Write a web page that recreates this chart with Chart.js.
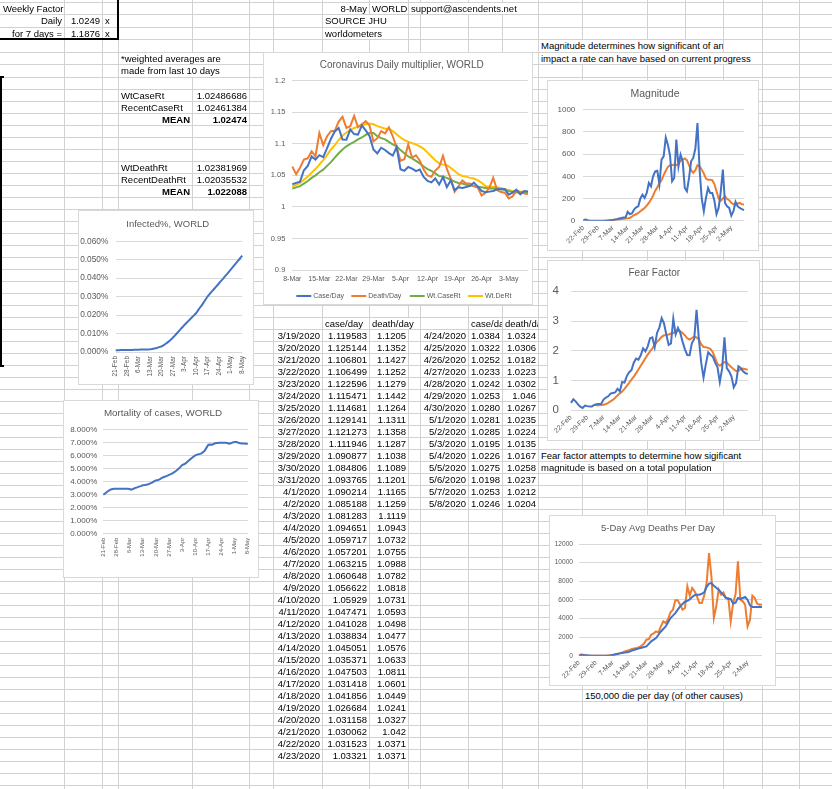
<!DOCTYPE html>
<html>
<head>
<meta charset="utf-8">
<title>WORLD multiplier sheet</title>
<script src="https://cdn.jsdelivr.net/npm/chart.js@4.4.1/dist/chart.umd.min.js"></script>
<style>
  html, body { margin: 0; padding: 0; background: #fff; }
  body { position: relative; width: 832px; height: 789px; overflow: hidden;
         font-family: 'Liberation Sans', Arial, sans-serif; }
  #grid { position: absolute; left: 0; top: 0; }
  .c { position: absolute; font-size: 9.5px; white-space: nowrap; overflow: hidden; color: #000; box-sizing: border-box; }
  .r { text-align: right; padding-right: 2px; }
  .l { text-align: left; padding-left: 2px; }
  .b { font-weight: bold; }
  .w { background: #fff; }
  .thick { position: absolute; background: #000; }
  canvas.chart { position: absolute; }
</style>
</head>
<body>
<canvas id="grid" width="832" height="789"></canvas>
<div id="cells"></div>
<div class="thick" style="left:0;top:38px;width:119px;height:2px"></div>
<div class="thick" style="left:117px;top:0;width:2px;height:40px"></div>
<div class="thick" style="left:0;top:76px;width:2px;height:291px"></div>
<div class="thick" style="left:0;top:76px;width:4px;height:2px"></div>
<div class="thick" style="left:0;top:365px;width:4px;height:2px"></div>
<canvas class="chart" id="chMain"></canvas>
<canvas class="chart" id="chMag"></canvas>
<canvas class="chart" id="chFear"></canvas>
<canvas class="chart" id="chDeaths"></canvas>
<canvas class="chart" id="chInf"></canvas>
<canvas class="chart" id="chMort"></canvas>
<script>
// ---- table data (sheet columns) ----
let tableDatesA = ['3/19/2020','3/20/2020','3/21/2020','3/22/2020','3/23/2020','3/24/2020','3/25/2020','3/26/2020',
  '3/27/2020','3/28/2020','3/29/2020','3/30/2020','3/31/2020','4/1/2020','4/2/2020','4/3/2020','4/4/2020','4/5/2020',
  '4/6/2020','4/7/2020','4/8/2020','4/9/2020','4/10/2020','4/11/2020','4/12/2020','4/13/2020','4/14/2020','4/15/2020',
  '4/16/2020','4/17/2020','4/18/2020','4/19/2020','4/20/2020','4/21/2020','4/22/2020','4/23/2020'];
let tableCaseA = ['1.119583','1.125144','1.106801','1.106499','1.122596','1.115471','1.114681','1.129141','1.121273',
  '1.111946','1.090877','1.084806','1.093765','1.090214','1.085188','1.081283','1.094651','1.059717','1.057201',
  '1.063215','1.060648','1.056622','1.05929','1.047471','1.041028','1.038834','1.045051','1.035371','1.047503',
  '1.031418','1.041856','1.026684','1.031158','1.030062','1.031523','1.03321'];
let tableDeathA = ['1.1205','1.1352','1.1427','1.1252','1.1279','1.1442','1.1264','1.1311','1.1358','1.1287','1.1038',
  '1.1089','1.1201','1.1165','1.1259','1.1119','1.0943','1.0732','1.0755','1.0988','1.0782','1.0818','1.0731','1.0593',
  '1.0498','1.0477','1.0576','1.0633','1.0811','1.0601','1.0449','1.0241','1.0327','1.042','1.0371','1.0371'];
let tableDatesB = ['4/24/2020','4/25/2020','4/26/2020','4/27/2020','4/28/2020','4/29/2020','4/30/2020','5/1/2020',
  '5/2/2020','5/3/2020','5/4/2020','5/5/2020','5/6/2020','5/7/2020','5/8/2020'];
let tableCaseB = ['1.0384','1.0322','1.0252','1.0233','1.0242','1.0253','1.0280','1.0281','1.0285','1.0195','1.0226',
  '1.0275','1.0198','1.0253','1.0246'];
let tableDeathB = ['1.0324','1.0306','1.0182','1.0223','1.0302','1.046','1.0267','1.0235','1.0224','1.0135','1.0167',
  '1.0258','1.0237','1.0212','1.0204'];

// ---- daily multiplier chart (8-Mar .. 8-May) ----
let earlyCase = [1.036,1.038,1.040,1.058,1.065,1.080,1.075,1.082,1.079,1.093,1.108];
let earlyDeath = [1.064,1.052,1.062,1.075,1.077,1.088,1.080,1.117,1.098,1.112,1.120];
let wtCaseRt = [1.029,1.031,1.033,1.037,1.041,1.046,1.050,1.055,1.059,1.065,1.071,1.078,1.085,1.091,1.096,1.100,
  1.103,1.107,1.110,1.114,1.117,1.117,1.112,1.109,1.107,1.103,1.099,1.096,1.090,1.085,1.080,1.077,1.073,1.069,1.064,
  1.060,1.057,1.053,1.049,1.048,1.046,1.043,1.040,1.038,1.037,1.035,1.034,1.033,1.032,1.031,1.030,1.029,1.029,1.029,
  1.028,1.027,1.025,1.024,1.023,1.023,1.023,1.023];
let wtDeRt = [1.032,1.035,1.038,1.043,1.048,1.054,1.060,1.067,1.074,1.082,1.091,1.098,1.106,1.113,1.118,1.122,1.125,
  1.127,1.129,1.131,1.132,1.131,1.128,1.126,1.124,1.124,1.120,1.115,1.110,1.106,1.103,1.101,1.099,1.096,1.092,1.086,
  1.080,1.074,1.069,1.067,1.066,1.062,1.057,1.052,1.049,1.048,1.046,1.045,1.042,1.038,1.033,1.032,1.032,1.031,1.030,
  1.028,1.027,1.025,1.024,1.024,1.024,1.024];
let mainYTicks = [0.9,0.95,1,1.05,1.1,1.15,1.2];

// ---- magnitude / fear / deaths (22-Feb .. 8-May) ----
let magDaily = [5,10,4,0,0,0,0,0,0,0, 0,0,2,4,6,10,14,20,25,28, 30,80,60,65,100,120,130,200,235,205,
  250,340,310,400,445,450,330,550,580,750, 685,590,355,385,730,490,595,535,295,265,
  385,535,565,650,880,460,200,85,205,295, 250,250,180,60,115,260,460,160,130,115, 45,85,170,130,115,105,95];
let magAvg = [null,null,null,null,null,null,null,null,null,null, 0,0,2,3,5,8,10,12,
  15,18,20,22,25,38,50,58,70,85, 100,115,135,160,190,225,270,300,340,365, 410,450,485,500,500,505,500,510,540,550,
  560,545,500,455,430,455,500,490,460,425, 380,370,370,365,330,265,200,180,200,220, 195,185,160,150,140,155,160,148,145];
let magYTicks = [0,100,200,300,400,500,600,700,800,900,1000];

let fearDaily = [0.25,0.37,0.30,0.20,0.12,0.08,0.16,0.14,0.13,0.13, 0.18,0.20,0.21,0.22,0.36,0.43,0.47,0.56,0.58,0.60,
  0.72,0.64,0.95,0.93,1.15,1.28,1.35,1.60,1.74,1.70, 1.85,2.08,1.98,2.15,2.42,2.45,2.12,2.60,2.78,3.10,
  2.92,2.55,2.20,2.25,3.08,2.55,2.77,2.60,2.30,2.05, 1.86,1.85,2.26,2.40,3.38,2.40,1.60,1.10,1.55,1.95,
  1.87,1.80,1.60,1.45,0.95,1.40,2.45,1.42,1.31,1.14, 0.77,0.92,1.48,1.42,1.31,1.25,1.22];
let fearAvg = [null,null,null,null,null,null,null,null,null,null,
  0.19,0.17,0.17,0.18,0.19,0.21,0.25,0.30,0.35,0.42, 0.50,0.57,0.63,0.72,0.82,0.92,1.03,1.13,1.25,1.37,
  1.50,1.62,1.75,1.87,1.98,2.08,2.20,2.30,2.38,2.47, 2.52,2.53,2.55,2.58,2.60,2.64,2.68,2.66,2.60,2.52,
  2.42,2.38,2.43,2.48,2.45,2.38,2.22,2.13,2.12,2.10, 2.06,1.95,1.75,1.55,1.50,1.55,1.62,1.60,1.52,1.45,
  1.38,1.32,1.33,1.38,1.40,1.38,1.36];
let fearYTicks = [0,1,2,3,4];

let deaths5Day = [0,40,60,50,30,0,0,0,0,0, 0,0,0,30,80,120,180,250,300,330,
  360,450,550,645,720,790,860,930,1000,1270, 1540,1720,1900,2250,2600,2870,3150,3600,4050,4300,
  4580,4950,5300,5550,5800,5900,6050,6300,6500,6560, 6560,6650,6800,7400,7750,7800,7500,7300,7100,6800,
  6500,6200,6090,6090,5600,5700,6200,6100,6200,6300, 6000,5400,5230,5230,5230,5230,5230];
let deathsDaily = [0,150,80,0,0,0,0,0,0,0, 0,0,20,40,60,150,210,280,360,450,
  540,620,720,780,820,900,1075,1300,1720,1790, 2260,2400,2615,2510,3150,3690,3510,3940,4660,4940,
  5950,5950,5480,4940,5120,7450,6450,7270,6910,6380, 5660,5660,6450,7810,11030,8500,4050,5300,7090,6560,
  6800,6200,6200,3690,5660,6560,10140,6020,5840,5480, 3150,3870,6450,6200,5590,5480,5500];
let deathYTicks = [0,2000,4000,6000,8000,10000,12000];

// ---- infected % and mortality % (21-Feb .. 8-May) ----
let infectedPct = [0.00098,0.00100,0.00101,0.00102,0.00103,0.00104,0.00106,0.00107,0.00110,0.00113,
  0.00115,0.00118,0.00120,0.00123,0.00126,0.00129,0.00131,0.00133,0.00135,0.00138,
  0.00140,0.00145,0.00160,0.00180,0.00200,0.00220,0.00250,0.00280,0.00310,0.00360,
  0.00420,0.00480,0.00550,0.00620,0.00700,0.00800,0.00890,0.00990,0.01090,0.01190,
  0.01290,0.01380,0.01480,0.01570,0.01660,0.01750,0.01840,0.01930,0.02020,0.02110,
  0.02240,0.02370,0.02490,0.02610,0.02750,0.02890,0.03020,0.03120,0.03230,0.03330,
  0.03430,0.03530,0.03630,0.03740,0.03840,0.03940,0.04050,0.04150,0.04250,0.04360,
  0.04460,0.04570,0.04680,0.04790,0.04900,0.05000,0.05110,0.05220];
let infYTicks = [0,0.01,0.02,0.03,0.04,0.05,0.06];
let mortalityPct = [3.00,3.10,3.22,3.32,3.40,3.44,3.46,3.46,3.46,3.46, 3.45,3.46,3.46,3.45,3.44,3.38,3.45,3.52,3.56,3.62,
  3.66,3.72,3.74,3.77,3.80,3.87,3.93,4.02,4.10,4.13, 4.18,4.28,4.34,4.40,4.45,4.52,4.58,4.66,4.75,4.86,
  4.98,5.12,5.28,5.34,5.42,5.55,5.68,5.80,5.92,6.02, 6.08,6.12,6.16,6.25,6.38,6.62,6.85,6.86,6.85,6.92,
  6.97,6.98,7.00,7.00,7.00,7.00,6.98,6.93,6.95,7.02, 7.05,7.05,7.00,6.96,6.93,6.93,6.92,6.92];
let mortYTicks = [0,1,2,3,4,5,6,7,8];

// day labels like "8-Mar"
function dayLabels(month, day, n) {
  let names = ['Jan','Feb','Mar','Apr','May','Jun'];
  let out = [];
  let dt = new Date(Date.UTC(2020, month - 1, day));
  for (let i = 0; i < n; i++) {
    out.push(dt.getUTCDate() + '-' + names[dt.getUTCMonth()]);
    dt.setUTCDate(dt.getUTCDate() + 1);
  }
  return out;
}
let mainDays = dayLabels(3, 8, 62);
let febDays = dayLabels(2, 22, 77);
let infDays = dayLabels(2, 21, 78);

// ---- spreadsheet grid ----
let colX = [64,102,118,192,249,273,322,369,408,420,468,502,538,582,647,685,723,762,799];
function rowY(k) { return k <= 6 ? 1.7 + 12.5 * k : 76.7 + 12 * (k - 6); }

let g = document.getElementById('grid').getContext('2d');
g.strokeStyle = '#d2d2d2';
g.lineWidth = 1;
for (let k = 0; k < 66; k++) {
  let y = Math.round(rowY(k)) + 0.5;
  g.beginPath(); g.moveTo(0, y); g.lineTo(832, y); g.stroke();
}
colX.forEach(x => {
  g.beginPath(); g.moveTo(x + 0.5, 0); g.lineTo(x + 0.5, 789); g.stroke();
});

let cells = document.getElementById('cells');
function cell(k, x1, x2, text, cls) {
  let top = Math.round(rowY(k)) + 1;
  let h = Math.round(rowY(k + 1)) - top;
  let d = document.createElement('div');
  d.className = 'c ' + cls;
  d.style.left = (x1 + 1) + 'px';
  d.style.top = top + 'px';
  d.style.width = (x2 - x1 - 1) + 'px';
  d.style.height = h + 'px';
  d.style.lineHeight = h + 'px';
  d.textContent = text;
  cells.appendChild(d);
}

cell(0, 0, 64, 'Weekly Factor', 'l');
cell(1, 0, 64, 'Daily', 'r');
cell(1, 64, 102, '1.0249', 'r');
cell(1, 102, 118, 'x', 'l');
cell(2, 0, 64, 'for 7 days =', 'r');
cell(2, 64, 102, '1.1876', 'r');
cell(2, 102, 118, 'x', 'l');
cell(0, 322, 369, '8-May', 'r');
cell(0, 369, 408, 'WORLD', 'l');
cell(0, 408, 538, 'support@ascendents.net', 'l w');
cell(1, 322, 408, 'SOURCE JHU', 'l w');
cell(2, 322, 408, 'worldometers', 'l w');
cell(3, 538, 723, 'Magnitude determines how significant of an', 'l w');
cell(4, 538, 762, 'impact a rate can have based on current progress', 'l w');
cell(4, 118, 249, '*weighted averages are', 'l w');
cell(5, 118, 249, 'made from last 10 days', 'l w');
cell(7, 118, 192, 'WtCaseRt', 'l');
cell(7, 192, 249, '1.02486686', 'r');
cell(8, 118, 192, 'RecentCaseRt', 'l');
cell(8, 192, 249, '1.02461384', 'r');
cell(9, 118, 192, 'MEAN', 'r b');
cell(9, 192, 249, '1.02474', 'r b');
cell(13, 118, 192, 'WtDeathRt', 'l');
cell(13, 192, 249, '1.02381969', 'r');
cell(14, 118, 192, 'RecentDeathRt', 'l');
cell(14, 192, 249, '1.02035532', 'r');
cell(15, 118, 192, 'MEAN', 'r b');
cell(15, 192, 249, '1.022088', 'r b');
cell(26, 322, 369, 'case/day', 'l');
cell(26, 369, 420, 'death/day', 'l w');
cell(26, 468, 502, 'case/day', 'l');
cell(26, 502, 538, 'death/day', 'l');
tableDatesA.forEach((d, i) => {
  cell(27 + i, 273, 322, d, 'r');
  cell(27 + i, 322, 369, tableCaseA[i], 'r');
  cell(27 + i, 369, 408, tableDeathA[i], 'r');
});
tableDatesB.forEach((d, i) => {
  cell(27 + i, 420, 468, d, 'r');
  cell(27 + i, 468, 502, tableCaseB[i], 'r');
  cell(27 + i, 502, 538, tableDeathB[i], 'r');
});
cell(37, 538, 762, 'Fear factor attempts to determine how sigificant', 'l w');
cell(38, 538, 723, 'magnitude is based on a total population', 'l w');
cell(57, 582, 762, '150,000 die per day (of other causes)', 'l w');

// ---- charts ----
Chart.defaults.font.family = "'Liberation Sans', Arial, sans-serif";
Chart.defaults.color = '#595959';

const BLUE = '#4472C4', ORANGE = '#ED7D31', GREEN = '#70AD47', GOLD = '#FFC000';

// white chart area with thin border, Excel-like title and optional legend
const sheetBox = {
  id: 'sheetBox',
  beforeDraw(chart, args, o) {
    let c = chart.ctx;
    c.save();
    c.fillStyle = '#fff';
    c.fillRect(0, 0, chart.width, chart.height);
    c.strokeStyle = '#d9d9d9';
    c.lineWidth = 1;
    c.strokeRect(0.5, 0.5, chart.width - 1, chart.height - 1);
    c.fillStyle = '#595959';
    c.font = o.tsize + "px 'Liberation Sans', Arial, sans-serif";
    c.textAlign = 'center';
    c.textBaseline = 'middle';
    c.fillText(o.title, o.tx, o.ty);
    c.restore();
  },
  afterDraw(chart, args, o) {
    if (!o.legendX) return;
    let c = chart.ctx;
    c.save();
    c.font = o.lsize + "px 'Liberation Sans', Arial, sans-serif";
    c.textAlign = 'left';
    c.textBaseline = 'middle';
    chart.data.datasets.forEach((ds, i) => {
      let x = o.legendX[i];
      c.strokeStyle = ds.borderColor;
      c.lineWidth = 2;
      c.beginPath();
      c.moveTo(x - 17, o.legendY);
      c.lineTo(x - 2, o.legendY);
      c.stroke();
      c.fillStyle = '#595959';
      c.fillText(ds.label, x, o.legendY);
    });
    c.restore();
  }
};

function makeChart(id, b) {
  let cv = document.getElementById(id);
  cv.width = b.w; cv.height = b.h;
  cv.style.left = b.x + 'px'; cv.style.top = b.y + 'px';
  cv.style.width = b.w + 'px'; cv.style.height = b.h + 'px';
  return new Chart(cv, {
    type: 'line',
    data: {
      labels: b.labels,
      datasets: b.sets.map(s => ({
        label: s.name, data: s.data, borderColor: s.color, backgroundColor: s.color,
        borderWidth: 2, pointRadius: 0, tension: 0
      }))
    },
    options: {
      responsive: false,
      animation: false,
      events: [],
      layout: { padding: { left: 0, top: b.plot[2], right: b.w - b.plot[1], bottom: 0 } },
      plugins: {
        legend: { display: false },
        tooltip: { enabled: false },
        sheetBox: { title: b.title, tx: b.tx, ty: b.ty, tsize: b.tsize,
                    legendX: b.legendX, legendY: b.legendY, lsize: b.lsize }
      },
      scales: {
        x: {
          grid: { display: false, drawTicks: false },
          border: { display: false },
          ticks: {
            autoSkip: false, minRotation: b.rot, maxRotation: b.rot, padding: b.xpad,
            font: { size: b.xfs },
            callback: (v, i) => (i % 7 === 0 ? b.labels[i] : '')
          },
          afterFit: s => { s.height = b.h - b.plot[3]; }
        },
        y: {
          min: b.yticks[0], max: b.yticks[b.yticks.length - 1],
          grid: { color: '#d9d9d9', drawTicks: false },
          border: { display: false },
          afterBuildTicks: s => { s.ticks = b.yticks.map(v => ({ value: v })); },
          ticks: { padding: b.ypad, font: { size: b.yfs }, callback: b.yfmt },
          afterFit: s => { s.width = b.plot[0]; }
        }
      }
    },
    plugins: [sheetBox]
  });
}

makeChart('chMain', {
  x: 263, y: 52, w: 270, h: 253, plot: [29.3, 265.5, 28.7, 218],
  title: 'Coronavirus Daily multiplier, WORLD', tx: 138.7, ty: 13, tsize: 10,
  labels: mainDays, rot: 0, xpad: 5, xfs: 7,
  yticks: mainYTicks, ypad: 7, yfs: 7.5, yfmt: v => String(parseFloat(v.toFixed(2))),
  legendX: [50.3, 105.3, 163.7, 222], legendY: 244, lsize: 7,
  sets: [
    { name: 'Case/Day', color: BLUE, data: earlyCase.concat(tableCaseA, tableCaseB).map(Number) },
    { name: 'Death/Day', color: ORANGE, data: earlyDeath.concat(tableDeathA, tableDeathB).map(Number) },
    { name: 'Wt.CaseRt', color: GREEN, data: wtCaseRt },
    { name: 'Wt.DeRt', color: GOLD, data: wtDeRt }
  ]
});

makeChart('chMag', {
  x: 547, y: 80, w: 212, h: 171, plot: [36.3, 197, 29.7, 140.7],
  title: 'Magnitude', tx: 108, ty: 13.7, tsize: 10.5,
  labels: febDays, rot: 45, xpad: 3, xfs: 7,
  yticks: magYTicks, ypad: 8, yfs: 8, yfmt: v => String(v),
  sets: [
    { name: 'Magnitude', color: BLUE, data: magDaily },
    { name: 'Avg', color: ORANGE, data: magAvg }
  ]
});

makeChart('chFear', {
  x: 547, y: 260, w: 213, h: 181, plot: [24, 200.7, 31.3, 150.3],
  title: 'Fear Factor', tx: 107.3, ty: 13, tsize: 10,
  labels: febDays, rot: 45, xpad: 3, xfs: 7,
  yticks: fearYTicks, ypad: 12, yfs: 11.5, yfmt: v => String(v),
  sets: [
    { name: 'Fear', color: BLUE, data: fearDaily },
    { name: 'Avg', color: ORANGE, data: fearAvg }
  ]
});

makeChart('chDeaths', {
  x: 549, y: 515, w: 227, h: 171, plot: [30, 213, 29, 140.7],
  title: '5-Day Avg Deaths Per Day', tx: 109, ty: 13, tsize: 9.5,
  labels: febDays, rot: 45, xpad: 3, xfs: 7,
  yticks: deathYTicks, ypad: 6, yfs: 6.6, yfmt: v => String(v),
  sets: [
    { name: '5-Day Avg', color: BLUE, data: deaths5Day },
    { name: 'Deaths', color: ORANGE, data: deathsDaily }
  ]
});

makeChart('chInf', {
  x: 78, y: 210, w: 176, h: 175, plot: [37.7, 172.5, 31.3, 142],
  title: 'Infected%, WORLD', tx: 89.7, ty: 14, tsize: 9.5,
  labels: infDays, rot: 90, xpad: 4, xfs: 6.5,
  yticks: infYTicks, ypad: 7.4, yfs: 8.3, yfmt: v => v.toFixed(3) + '%',
  sets: [{ name: 'Infected%', color: BLUE, data: infectedPct }]
});

makeChart('chMort', {
  x: 63, y: 400, w: 196, h: 178, plot: [40.3, 192, 29.7, 133.7],
  title: 'Mortality of cases, WORLD', tx: 100, ty: 13, tsize: 9.8,
  labels: infDays, rot: 90, xpad: 4, xfs: 6,
  yticks: mortYTicks, ypad: 6, yfs: 8, yfmt: v => v.toFixed(3) + '%',
  sets: [{ name: 'Mortality', color: BLUE, data: mortalityPct }]
});
</script>
</body>
</html>
